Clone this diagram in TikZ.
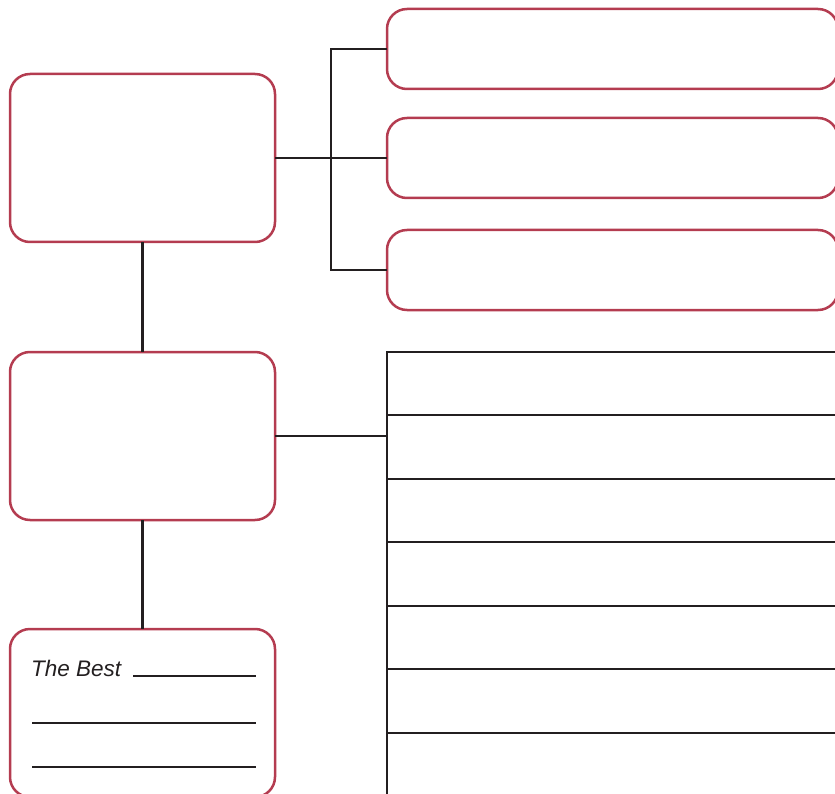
\documentclass[tikz,border=0pt]{standalone}
\usepackage{fontspec}
\setmainfont{Liberation Sans}
\usetikzlibrary{positioning,calc}

\definecolor{boxred}{RGB}{180,60,80}
\definecolor{inkline}{RGB}{35,31,32}

\begin{document}
\begin{tikzpicture}[
x=1pt, y=-1pt,
box/.style={draw=boxred, line width=2.5pt, rounded corners=20pt, anchor=north west, inner sep=0pt, outer sep=0pt, minimum width=265pt, minimum height=168pt},
optbox/.style={box, minimum width=451pt, minimum height=80pt},
conn/.style={draw=inkline, line width=2.5pt},
blank/.style={draw=inkline, line width=2.5pt}
]
\useasboundingbox (0,0) rectangle (835,794);
\clip (0,0) rectangle (835,794);

% left column
\node[box] (topbox) at (10,74) {};
\node[box] (midbox) at (10,352) {};
\node[box] (bestbox) at (10,629) {};

% options on the right
\node[optbox] (opt1) at (387,9) {};
\node[optbox] (opt2) at (387,118) {};
\node[optbox] (opt3) at (387,230) {};

% list on the right
\node[draw=inkline, line width=2.5pt, anchor=north west, inner sep=0pt, outer sep=0pt, minimum width=540pt, minimum height=560pt] (list) at (387,352) {};
\foreach \y in {415,479,542,606,669,733}
  \draw[blank] (387,\y) -- (900,\y);

% connectors
\coordinate (fork) at (331,158);
\draw[conn] (topbox.east) -- (opt2.west);
\draw[conn] (opt1.west) -| (fork) |- (opt3.west);
\draw[conn] (topbox.south) -- (midbox.north);
\draw[conn] (midbox.south) -- (bestbox.north);
\draw[conn] (midbox.east) -- (midbox.east -| list.west);

% the best
\node[anchor=base west, inner sep=0pt, font=\itshape\fontsize{22.5}{26}\selectfont, text=inkline] (best) at (31,676) {The Best};
\draw[blank] (133,676) -- (256,676);
\draw[blank] (32,723) -- (256,723);
\draw[blank] (32,767) -- (256,767);
\end{tikzpicture}
\end{document}
